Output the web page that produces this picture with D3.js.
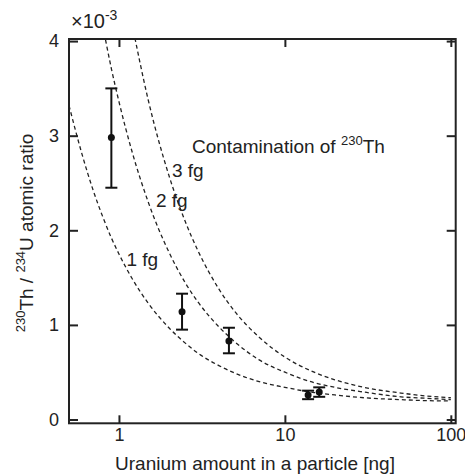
<!DOCTYPE html>
<html>
<head>
<meta charset="utf-8">
<script src="https://cdn.jsdelivr.net/npm/d3@7"></script>
<style>
  body { margin: 0; background: #fff; }
  text { font-family: "Liberation Sans", Arial, sans-serif; fill: #222; }
</style>
</head>
<body>
<div id="container"></div>
<script>
// values in units of 10^-3 (ratio)
const uranium = [0.9, 2.4, 4.6, 13.8, 16.1];
const ratio = [2.98, 1.14, 0.83, 0.26, 0.29];
const errLow = [2.45, 0.95, 0.70, 0.215, 0.24];
const errHigh = [3.50, 1.33, 0.97, 0.305, 0.34];

// contamination curves
const x1fg = [0.5, 0.6, 0.7, 0.8, 0.9, 1, 1.2, 1.5, 2, 2.5, 3, 4, 5, 7, 10, 15, 20, 30, 50, 70, 100];
const y1fg = [3.32, 2.80, 2.42, 2.14, 1.92, 1.75, 1.49, 1.23, 0.97, 0.81, 0.70, 0.57, 0.49, 0.40, 0.34, 0.285, 0.26, 0.23, 0.21, 0.20, 0.196];
const x2fg = [0.8, 0.9, 1, 1.2, 1.5, 2, 2.5, 3, 4, 5, 7, 10, 15, 20, 30, 50, 70, 100];
const y2fg = [4.16, 3.71, 3.36, 2.83, 2.30, 1.77, 1.45, 1.24, 0.98, 0.82, 0.63, 0.50, 0.39, 0.34, 0.29, 0.24, 0.225, 0.21];
const x3fg = [1.2, 1.5, 2, 2.5, 3, 4, 5, 7, 10, 15, 20, 30, 50, 70, 100];
const y3fg = [4.18, 3.38, 2.58, 2.10, 1.78, 1.38, 1.14, 0.87, 0.66, 0.50, 0.42, 0.34, 0.28, 0.25, 0.23];

const curveLabels = ["1 fg", "2 fg", "3 fg"];
const xTicks = [1, 10, 100];
const yTicks = [0, 1, 2, 3, 4];

const w = 465;
const h = 474;
const pLeft = 69, pRight = 455.7, pTop = 39, pBottom = 423.3;

const xScale = d3.scaleLog().domain([0.5, 107]).range([pLeft, pRight]);
const yScale = d3.scaleLinear().domain([-0.04, 4.022]).range([pBottom, pTop]);

let svg = d3.select("#container").append("svg")
  .attr("width", w).attr("height", h);

svg.append("defs").append("clipPath").attr("id", "plot")
  .append("rect")
  .attr("x", pLeft).attr("y", pTop)
  .attr("width", pRight - pLeft).attr("height", pBottom - pTop);

//Curves
const line = d3.line()
  .x((d) => xScale(d[0]))
  .y((d) => yScale(d[1]))
  .curve(d3.curveMonotoneX);

const curves = [d3.zip(x1fg, y1fg), d3.zip(x2fg, y2fg), d3.zip(x3fg, y3fg)];
svg.append("g").attr("clip-path", "url(#plot)")
  .selectAll("path")
  .data(curves)
  .enter()
  .append("path")
  .attr("d", line)
  .attr("fill", "none")
  .attr("stroke", "#222")
  .attr("stroke-width", 1.3)
  .attr("stroke-dasharray", "4,3");

//Axes (ticks inward on all four sides)
const axisColor = "#222";
function styleAxis(g) {
  g.select(".domain").remove();
  g.selectAll("line").attr("stroke", axisColor).attr("stroke-width", 2);
  g.selectAll("text").style("font-size", "18px").attr("fill", "#222");
}

svg.append("g")
  .attr("transform", "translate(0," + pBottom + ")")
  .call(d3.axisBottom(xScale).tickValues(xTicks).tickSize(-8).tickPadding(5).tickFormat(d3.format("d")))
  .call(styleAxis);
svg.append("g")
  .attr("transform", "translate(0," + pTop + ")")
  .call(d3.axisTop(xScale).tickValues(xTicks).tickSize(-8).tickFormat(""))
  .call(styleAxis);
svg.append("g")
  .attr("transform", "translate(" + pLeft + ",0)")
  .call(d3.axisLeft(yScale).tickValues(yTicks).tickSize(-9).tickPadding(10).tickFormat(d3.format("d")))
  .call(styleAxis);
svg.append("g")
  .attr("transform", "translate(" + pRight + ",0)")
  .call(d3.axisRight(yScale).tickValues(yTicks).tickSize(-9).tickFormat(""))
  .call(styleAxis);

svg.append("rect")
  .attr("x", pLeft).attr("y", pTop)
  .attr("width", pRight - pLeft).attr("height", pBottom - pTop)
  .attr("fill", "none").attr("stroke", axisColor).attr("stroke-width", 2);

//Error bars
const pts = uranium.map((u, i) => ({ u: u, r: ratio[i], lo: errLow[i], hi: errHigh[i] }));
const eb = svg.append("g").attr("stroke", "#111").attr("stroke-width", 2);
eb.selectAll(".stem").data(pts).enter().append("line")
  .attr("x1", (d) => xScale(d.u)).attr("x2", (d) => xScale(d.u))
  .attr("y1", (d) => yScale(d.lo)).attr("y2", (d) => yScale(d.hi));
eb.selectAll(".capHi").data(pts).enter().append("line")
  .attr("x1", (d) => xScale(d.u) - 6).attr("x2", (d) => xScale(d.u) + 6)
  .attr("y1", (d) => yScale(d.hi)).attr("y2", (d) => yScale(d.hi));
eb.selectAll(".capLo").data(pts).enter().append("line")
  .attr("x1", (d) => xScale(d.u) - 6).attr("x2", (d) => xScale(d.u) + 6)
  .attr("y1", (d) => yScale(d.lo)).attr("y2", (d) => yScale(d.lo));
svg.selectAll("circle").data(pts).enter().append("circle")
  .attr("cx", (d) => xScale(d.u)).attr("cy", (d) => yScale(d.r))
  .attr("r", 3.5).attr("fill", "#111");

//Curve labels
const labelPos = [[126.5, 266], [156, 207], [172, 177]];
svg.selectAll(".fg").data(curveLabels).enter().append("text")
  .attr("x", (d, i) => labelPos[i][0]).attr("y", (d, i) => labelPos[i][1])
  .style("font-size", "19px")
  .text((d) => d);

let cont = svg.append("text").attr("x", 192).attr("y", 153).style("font-size", "19px");
cont.append("tspan").text("Contamination of ");
cont.append("tspan").attr("dy", -8).style("font-size", "13px").text("230");
cont.append("tspan").attr("dy", 8).text("Th");

//Exponent
let ex = svg.append("text").attr("x", 71).attr("y", 28).style("font-size", "20px");
ex.append("tspan").text("\u00d710");
ex.append("tspan").attr("dy", -8).style("font-size", "14px").text("-3");

//Axis titles
svg.append("text")
  .attr("x", 255)
  .attr("y", 470)
  .style("text-anchor", "middle")
  .style("font-size", "19px")
  .text("Uranium amount in a particle [ng]");

let yl = svg.append("text")
  .attr("transform", "translate(33," + 233 + ") rotate(-90)")
  .style("text-anchor", "middle")
  .style("font-size", "19px");
yl.append("tspan").attr("dy", -8).style("font-size", "13px").text("230");
yl.append("tspan").attr("dy", 8).text("Th / ");
yl.append("tspan").attr("dy", -8).style("font-size", "13px").text("234");
yl.append("tspan").attr("dy", 8).text("U atomic ratio");
</script>
</body>
</html>
